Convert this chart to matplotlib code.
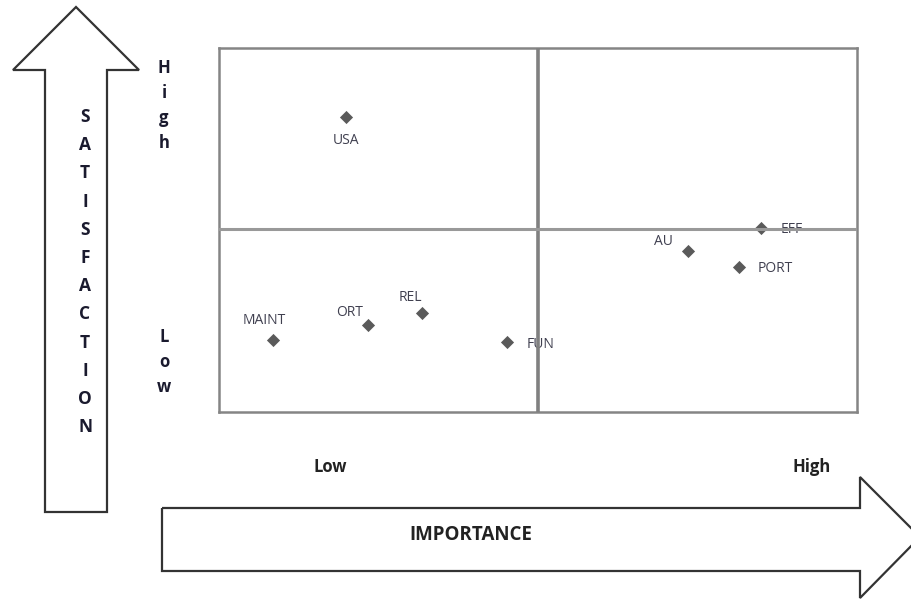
import matplotlib
matplotlib.use("Agg")
import matplotlib.pyplot as plt
from matplotlib.patches import Polygon

plt.rcParams['font.family'] = ['Open Sans', 'DejaVu Sans']

# Data
labels = ["USA", "MAINT", "ORT", "REL", "FUN", "AU", "EFF", "PORT"]
importance = [1.99, 0.85, 2.34, 3.18, 4.51, 7.35, 8.50, 8.15]
satisfaction = [8.10, 1.98, 2.39, 2.72, 1.92, 4.42, 5.05, 3.98]
label_offsets = {  # pixel offsets of labels relative to points
    "USA": (0, -23, 'center'),
    "MAINT": (-9, 19, 'center'),
    "ORT": (-19, 13, 'center'),
    "REL": (-12, 15, 'center'),
    "FUN": (20, -2, 'left'),
    "AU": (-24, 10, 'center'),
    "EFF": (19, -1, 'left'),
    "PORT": (19, -1, 'left'),
}
sat_word = "SATISFACTION"
imp_word = "IMPORTANCE"

W, H = 911, 602
fig = plt.figure(figsize=(W / 100, H / 100), dpi=100)

# overlay axes in pixel coordinates for arrows and labels
ov = fig.add_axes([0, 0, 1, 1])
ov.set_xlim(0, W)
ov.set_ylim(H, 0)
ov.axis('off')

up_arrow = [(45, 512), (45, 70), (13, 70), (76, 7), (139, 70), (107, 70), (107, 512)]
ov.add_patch(Polygon(up_arrow, closed=True, fill=False, edgecolor='#333333', lw=1.6, joinstyle='miter'))
right_arrow = [(162, 508), (860, 508), (860, 477), (920, 537), (860, 598), (860, 571), (162, 571)]
ov.add_patch(Polygon(right_arrow, closed=True, fill=False, edgecolor='#333333', lw=1.6, joinstyle='miter',
                     clip_on=True))

txt_color = '#1a1a2e'
for i, ch in enumerate(sat_word):
    ov.text(85, 117 + i * 28.2, ch, ha='center', va='center', fontsize=12.5, fontweight='bold', color=txt_color)
for i, ch in enumerate("High"):
    ov.text(164, 68 + i * 25, ch, ha='center', va='center', fontsize=12, fontweight='bold', color=txt_color)
for i, ch in enumerate("Low"):
    ov.text(164, 337 + i * 25, ch, ha='center', va='center', fontsize=12, fontweight='bold', color=txt_color)
ov.text(330, 467, "Low", ha='center', va='center', fontsize=12, fontweight='bold', color='#222222')
ov.text(812, 467, "High", ha='center', va='center', fontsize=12, fontweight='bold', color='#222222')
ov.text(471, 535, imp_word, ha='center', va='center', fontsize=13.5, fontweight='bold', color='#222222')

# main quadrant axes
ax = fig.add_axes([219 / W, (H - 412) / H, 638 / W, 364 / H])
ax.set_xlim(0, 10)
ax.set_ylim(0, 10)
ax.set_xticks([])
ax.set_yticks([])
for s in ax.spines.values():
    s.set_color('#858585')
    s.set_linewidth(1.8)

ax.scatter(importance, satisfaction, marker='D', s=45, color='#5a5a5a', zorder=2, linewidths=0)
ax.axvline(5.0, color='#808080', lw=2.6, zorder=3)
ax.axhline(5.03, color='#999999', lw=2.2, zorder=3)

for lab, x, y in zip(labels, importance, satisfaction):
    dx, dy, ha = label_offsets[lab]
    ax.annotate(lab, (x, y), xytext=(dx * 0.72, dy * 0.72), textcoords='offset points',
                ha=ha, va='center', fontsize=10, color='#404050', zorder=2)

fig.savefig("out.png", dpi=100)
